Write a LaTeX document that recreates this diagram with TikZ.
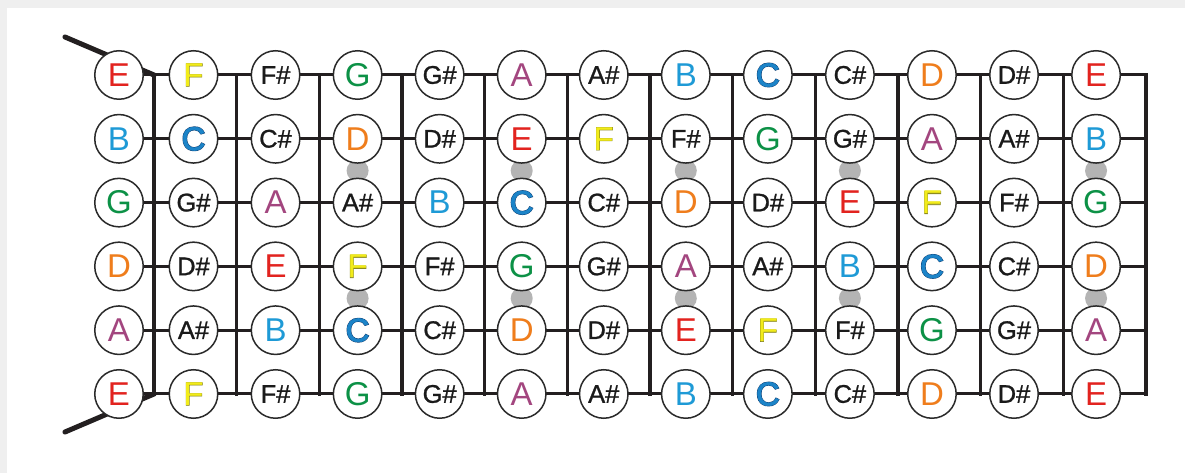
\documentclass[tikz,border=0pt]{standalone}
\usepackage{fontspec}
\usetikzlibrary{calc}
\setmainfont{Liberation Sans}
\newfontfamily\notefont{Liberation Sans}
\newfontfamily\notefat[FakeBold=4.5]{Liberation Sans}
\newfontfamily\notemid[FakeBold=1.8]{Liberation Sans}
\newfontfamily\notethin[FakeBold=1]{Liberation Sans}
\definecolor{bggray}{HTML}{EFEFEF}
\definecolor{linecol}{HTML}{231F20}
\definecolor{circline}{HTML}{2A2A2A}
\definecolor{dotgray}{HTML}{B4B4B4}
\definecolor{ecol}{HTML}{E2231F}
\definecolor{bcol}{HTML}{1E9AD6}
\definecolor{gcol}{HTML}{0C9146}
\definecolor{dcol}{HTML}{EF7D1C}
\definecolor{acol}{HTML}{A3467F}
\definecolor{fcol}{HTML}{F2EC1A}
\definecolor{fdark}{HTML}{8C8A1E}
\definecolor{ccol}{HTML}{1C84C8}
\definecolor{cdark}{HTML}{0E3A6C}
\definecolor{sharpcol}{HTML}{1A1A1A}
\newlength\glyphw
\newcommand\natsize{\fontsize{33bp}{33bp}\selectfont}
\newcommand\shsize{\fontsize{25.5bp}{25.5bp}\selectfont}
\newcommand\natnote[2]{{\notefont\natsize\color{#2}#1}}
\newcommand\shnote[1]{{\notethin\shsize\color{sharpcol}#1}}
\newcommand\layered[5]{\settowidth\glyphw{\natsize\notefont #1}%
  \makebox[0pt][l]{\kern-.5\glyphw\natsize#2\color{#3}#1}%
  \makebox[0pt][l]{\kern-.5\glyphw\natsize#4\color{#5}#1}}
\newcommand\Cnote{\layered{C}{\notefat}{cdark}{\notemid}{ccol}}
\newcommand\Fnote{\layered{F}{\notemid}{fdark}{\notefont}{fcol}}
\newcommand\notetext[1]{\ifcase#1 \Cnote\or\shnote{C\#}\or\natnote{D}{dcol}\or\shnote{D\#}\or\natnote{E}{ecol}\or\Fnote\or\shnote{F\#}\or\natnote{G}{gcol}\or\shnote{G\#}\or\natnote{A}{acol}\or\shnote{A\#}\or\natnote{B}{bcol}\fi}
\pgfdeclarelayer{back}
\pgfdeclarelayer{bg}
\pgfsetlayers{back,bg,main}
\tikzset{
  notecirc/.style={circle,draw=circline,line width=1.5bp,fill=white,minimum size=48.5bp,inner sep=0pt},
  fretline/.style={draw=linecol,line width=3.2bp,line cap=rect},
  stringline/.style={draw=linecol,line width=3bp,line cap=rect},
  headline/.style={draw=linecol,line width=5bp,line cap=round},
  fretdot/.style={circle,fill=dotgray,minimum size=22bp,inner sep=0pt}
}
\begin{document}
\begin{tikzpicture}[x=1bp,y=-1bp]
\useasboundingbox (0,0) rectangle (1185,473);
\begin{pgfonlayer}{back}
  \fill[bggray] (0,0) rectangle (1185,473);
  \fill[white] (7,8) rectangle (1185,473);
\end{pgfonlayer}
% fret line end points
\foreach \k in {0,...,12}{
  \pgfmathsetmacro\fx{154+82.67*\k}
  \coordinate (ft-\k) at (\fx,75);
  \coordinate (fb-\k) at (\fx,394);
}
% note circles
\foreach \s/\open/\y in {0/4/75,1/11/138.8,2/7/202.6,3/2/266.4,4/9/330.2,5/4/394}{
  \coordinate (sr-\s) at (1146,\y);
  \foreach \k in {0,...,12}{
    \pgfmathtruncatemacro\n{mod(\open+\k,12)}
    \pgfmathsetmacro\xc{ifthenelse(\k==0,119,193.5+82.05*(\k-1))}
    \node[notecirc] (n-\s-\k) at (\xc,\y) {\notetext{\n}};
  }
}
\coordinate (hs-t) at (65,37);
\coordinate (hs-b) at (65,432);
\begin{pgfonlayer}{bg}
  % fret markers
  \foreach \k in {3,5,7,9,12}{
    \node[fretdot] (dot-a-\k) at ($(n-1-\k)!0.5!(n-2-\k)$) {};
    \node[fretdot] (dot-b-\k) at ($(n-3-\k)!0.5!(n-4-\k)$) {};
  }
  \foreach \k in {0,...,12}{
    \draw[fretline] (ft-\k) -- (fb-\k);
  }
  \foreach \s in {0,...,5}{
    \draw[stringline] (n-\s-0.center) -- (sr-\s);
  }
  \draw[headline] (hs-t) -- (ft-0);
  \draw[headline] (hs-b) -- (fb-0);
\end{pgfonlayer}
\end{tikzpicture}
\end{document}
